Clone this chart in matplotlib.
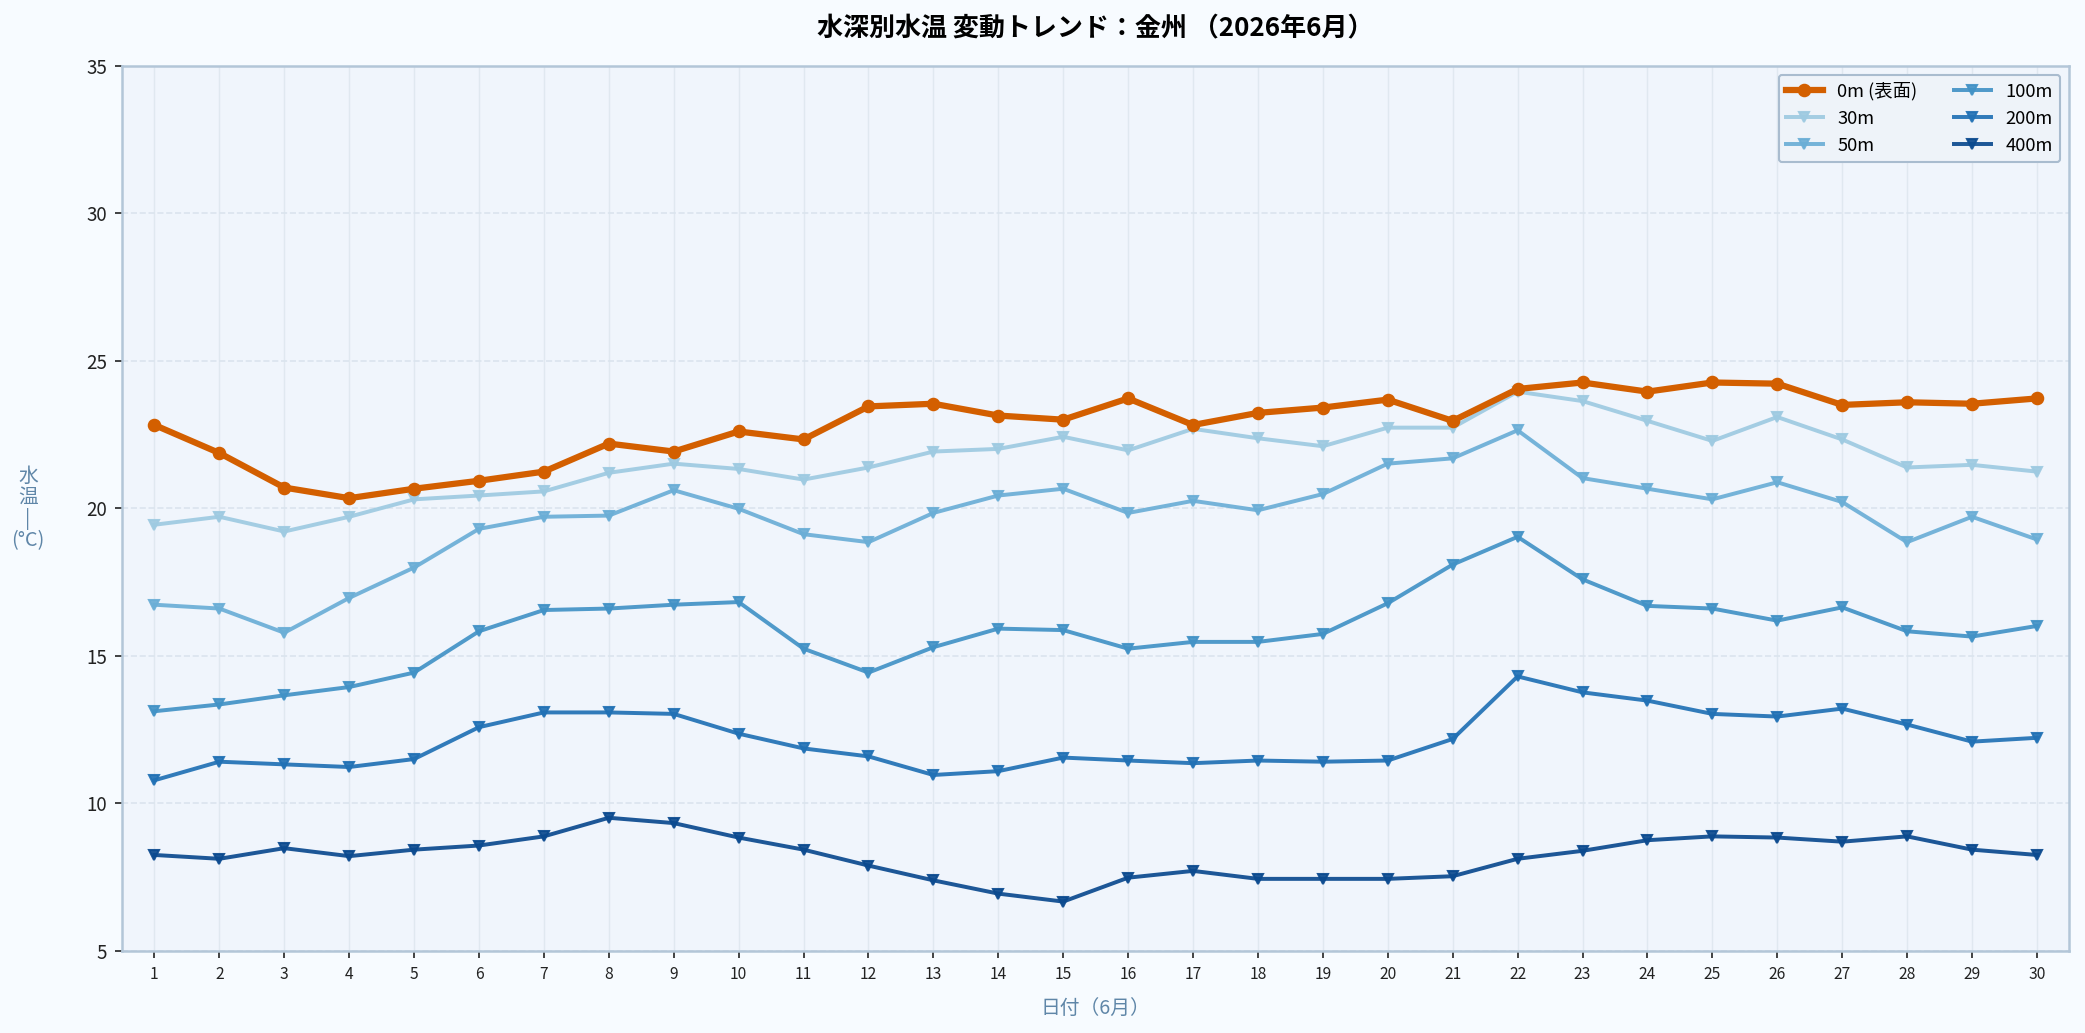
import matplotlib
matplotlib.use("Agg")
import matplotlib.pyplot as plt

plt.rcParams['font.family'] = ['Noto Sans CJK JP', 'DejaVu Sans']

days = list(range(1, 31))
labels = ["0m (表面)", "30m", "50m", "100m", "200m", "400m"]

t0 = [22.82, 21.87, 20.70, 20.34, 20.66, 20.93, 21.24, 22.19, 21.92, 22.60,
      22.33, 23.45, 23.54, 23.14, 23.00, 23.72, 22.82, 23.23, 23.41, 23.68,
      22.96, 24.04, 24.26, 23.95, 24.26, 24.22, 23.50, 23.59, 23.54, 23.72]
t30 = [19.44, 19.71, 19.21, 19.71, 20.30, 20.43, 20.57, 21.20, 21.51, 21.33,
       20.97, 21.38, 21.92, 22.01, 22.42, 21.96, 22.69, 22.37, 22.10, 22.73,
       22.73, 23.95, 23.63, 22.96, 22.28, 23.09, 22.33, 21.38, 21.47, 21.24]
t50 = [16.73, 16.60, 15.78, 16.96, 17.99, 19.30, 19.71, 19.75, 20.61, 19.98,
       19.12, 18.85, 19.84, 20.43, 20.66, 19.84, 20.25, 19.93, 20.48, 21.51,
       21.69, 22.64, 21.02, 20.66, 20.30, 20.88, 20.21, 18.85, 19.71, 18.94]
t100 = [13.12, 13.35, 13.66, 13.94, 14.43, 15.83, 16.55, 16.60, 16.73, 16.82,
        15.24, 14.43, 15.29, 15.92, 15.87, 15.24, 15.47, 15.47, 15.74, 16.78,
        18.09, 19.03, 17.59, 16.69, 16.60, 16.19, 16.64, 15.83, 15.65, 16.01]
t200 = [10.78, 11.41, 11.32, 11.23, 11.50, 12.58, 13.08, 13.08, 13.03, 12.36,
        11.86, 11.59, 10.96, 11.09, 11.55, 11.45, 11.36, 11.45, 11.41, 11.45,
        12.18, 14.30, 13.76, 13.48, 13.03, 12.94, 13.21, 12.67, 12.09, 12.22]
t400 = [8.25, 8.12, 8.48, 8.21, 8.43, 8.57, 8.88, 9.51, 9.33, 8.84,
        8.43, 7.89, 7.39, 6.94, 6.67, 7.48, 7.71, 7.44, 7.44, 7.44,
        7.53, 8.12, 8.39, 8.75, 8.88, 8.84, 8.70, 8.88, 8.43, 8.25]

series = [t0, t30, t50, t100, t200, t400]
colors = ["#d35f00", "#9ecae1", "#6baed6", "#4292c6", "#2171b5", "#0b4a8f"]

fig = plt.figure(figsize=(13.9, 6.887), dpi=150, facecolor="#f7fbff")
ax = fig.add_axes([0.0585, 0.0795, 0.934, 0.857])
ax.set_facecolor("#f0f5fc")

for i, (vals, lab, col) in enumerate(zip(series, labels, colors)):
    if i == 0:
        ax.plot(days, vals, color=col, lw=3, marker='o', ms=5.5, label=lab, zorder=5)
    else:
        ax.plot(days, vals, color=col, lw=1.9, marker='v', ms=5, alpha=0.92, label=lab, zorder=4)

ax.set_xlim(0.5, 30.5)
ax.set_ylim(5, 35)
ax.set_xticks(days)
ax.set_xticklabels([str(d) for d in days], fontsize=7.5, color="#333333")
ax.set_yticks([5, 10, 15, 20, 25, 30, 35])
ax.tick_params(axis='y', labelsize=9, colors="#222222")
ax.tick_params(axis='x', colors="#222222")

ax.grid(axis='x', color="#e0e8f0", lw=0.7, ls='-')
ax.grid(axis='y', color="#dbe4ee", lw=0.8, ls='--')
ax.set_axisbelow(True)

for s in ax.spines.values():
    s.set_color("#b3c6d8")
    s.set_linewidth(1.2)

ax.set_title("水深別水温 変動トレンド：金州 （2026年6月）", fontsize=12.5, fontweight='bold', pad=14)
ax.set_xlabel("日付（6月）", fontsize=9.5, color="#5f86a8", labelpad=8)
ax.set_ylabel("水\n温\n|\n(°C)", fontsize=9.5, color="#5f86a8", rotation=0, va='center', labelpad=28, linespacing=1.0)

leg = ax.legend(loc='upper right', ncol=2, fontsize=8.8, frameon=True, fancybox=True,
                edgecolor="#a9bccf", facecolor="#eef3f9", framealpha=1.0, columnspacing=2.0)

fig.savefig("out.png", dpi=150, facecolor=fig.get_facecolor())
